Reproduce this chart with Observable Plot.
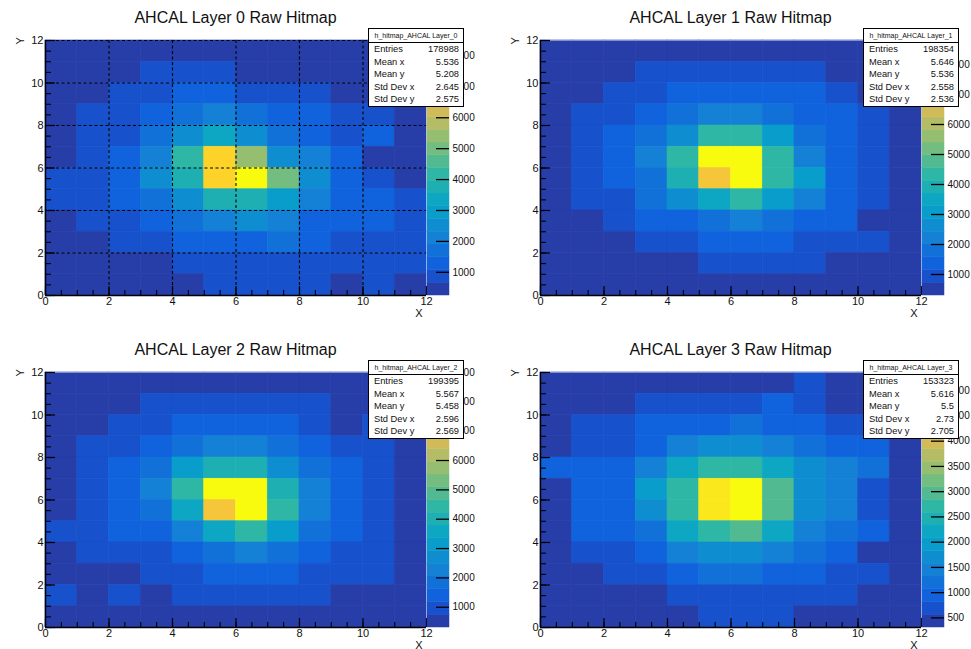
<!DOCTYPE html>
<html><head><meta charset="utf-8">
<script src="https://cdn.jsdelivr.net/npm/d3@7"></script>
<script src="https://cdn.jsdelivr.net/npm/@observablehq/plot@0.6"></script>
<style>
html,body{margin:0;padding:0;background:#fff;}
#root{position:relative;width:971px;height:649px;overflow:hidden;font-family:"Liberation Sans",Arial,sans-serif;color:#111;}
.panel{position:absolute;width:485px;height:325px;}
.panel > svg{position:absolute;left:0;top:0;}
.panel > svg.cbar{left:427px;}
.title{position:absolute;left:45px;width:381px;top:8px;text-align:center;font-size:16px;line-height:20px;}
.stats{position:absolute;left:368px;top:28px;width:96px;height:79px;border:1px solid #000;background:#fff;box-sizing:border-box;}
.stats .hd{height:13px;border-bottom:1px solid #000;font-size:7px;text-align:center;line-height:13px;white-space:nowrap;}
.stats .row{display:flex;justify-content:space-between;padding:0 4px 0 5px;height:12.6px;line-height:12.6px;font-size:9.3px;white-space:nowrap;}
</style></head>
<body><div id="root"></div>
<script>
// ---------- data ----------
const titles = ["AHCAL Layer 0 Raw Hitmap", "AHCAL Layer 1 Raw Hitmap", "AHCAL Layer 2 Raw Hitmap", "AHCAL Layer 3 Raw Hitmap"];
const histNames = ["h_hitmap_AHCAL Layer_0", "h_hitmap_AHCAL Layer_1", "h_hitmap_AHCAL Layer_2", "h_hitmap_AHCAL Layer_3"];
const statLabels = ["Entries", "Mean x", "Mean y", "Std Dev x", "Std Dev y"];
const statsLayer0 = ["178988", "5.536", "5.208", "2.645", "2.575"];
const statsLayer1 = ["198354", "5.646", "5.536", "2.558", "2.536"];
const statsLayer2 = ["199395", "5.567", "5.458", "2.596", "2.569"];
const statsLayer3 = ["153323", "5.616", "5.5", "2.73", "2.705"];

const xEdges = [0,1,2,3,4,5,6,7,8,9,10,11,12];
const yEdges = [0,1,2,3,4,5,6,7,8,9,10,11,12];
const majorTicks = [0,2,4,6,8,10,12];
const minorTicks = [0,0.5,1,1.5,2,2.5,3,3.5,4,4.5,5,5.5,6,6.5,7,7.5,8,8.5,9,9.5,10,10.5,11,11.5,12];
const gridTicks = [2,4,6,8,10,12];

const zTicksLayer0 = [1000,2000,3000,4000,5000,6000,7000,8000];
const zTicksLayer1 = [1000,2000,3000,4000,5000,6000,7000,8000];
const zTicksLayer2 = [1000,2000,3000,4000,5000,6000,7000,8000,9000];
const zTicksLayer3 = [500,1000,1500,2000,2500,3000,3500,4000,4500,5000];

// counts per bin; rows from y=11 (top) to y=0 (bottom), columns x=0..11
const layer0Counts = [
  [420, 380, 350, 410, 470, 520, 450, 400, 360, 330, 300, 280],
  [480, 520, 560, 880, 950, 960, 610, 540, 500, 470, 430, 390],
  [520, 600, 820, 900, 1230, 1280, 980, 930, 860, 620, 560, 480],
  [590, 780, 900, 1300, 1720, 2150, 1690, 1320, 1240, 950, 760, 520],
  [610, 860, 1020, 1740, 2560, 3350, 2480, 1760, 1290, 1040, 1200, 600],
  [640, 900, 1310, 2120, 4150, 7450, 5390, 2540, 2080, 1250, 650, 540],
  [820, 960, 1350, 2520, 3760, 7520, 8500, 5010, 2470, 1300, 940, 620],
  [780, 920, 1290, 1710, 2530, 3790, 3720, 2950, 2110, 1280, 1150, 840],
  [600, 830, 940, 1260, 1690, 2090, 2480, 2060, 1250, 1190, 1120, 760],
  [480, 560, 780, 860, 1180, 1240, 1300, 1580, 1150, 900, 830, 740],
  [350, 420, 510, 600, 720, 890, 960, 940, 870, 760, 730, 700],
  [250, 310, 340, 430, 560, 720, 790, 800, 740, 610, 700, 450]
];
const layer1Counts = [
  [300, 360, 410, 450, 500, 520, 510, 480, 430, 390, 350, 320],
  [380, 450, 560, 820, 900, 960, 980, 930, 860, 600, 470, 400],
  [420, 560, 860, 1090, 1260, 1370, 1410, 1340, 1220, 900, 640, 450],
  [490, 820, 1060, 1380, 1810, 2190, 2230, 1830, 1400, 1260, 920, 560],
  [520, 930, 1280, 1700, 2650, 4330, 4380, 3050, 1780, 1330, 950, 600],
  [560, 980, 1400, 2210, 4310, 8800, 8600, 4290, 2180, 1380, 990, 620],
  [540, 960, 1360, 1820, 3920, 7300, 8700, 4350, 3080, 1350, 960, 590],
  [480, 880, 1120, 1760, 2620, 3480, 4240, 3010, 2150, 1290, 900, 540],
  [420, 620, 840, 1220, 1300, 1790, 2210, 1740, 1280, 1200, 640, 450],
  [360, 480, 590, 830, 920, 1270, 1380, 1290, 970, 880, 800, 400],
  [320, 400, 460, 540, 650, 860, 960, 940, 820, 600, 450, 350],
  [310, 340, 380, 420, 480, 560, 600, 580, 520, 450, 390, 330]
];
const layer2Counts = [
  [310, 350, 400, 440, 480, 500, 490, 470, 440, 400, 360, 330],
  [400, 470, 580, 860, 950, 1000, 1010, 970, 900, 620, 480, 410],
  [450, 600, 880, 1090, 1290, 1400, 1420, 1330, 1100, 700, 780, 470],
  [500, 860, 1080, 1420, 1850, 2280, 2310, 1880, 1430, 1120, 930, 540],
  [540, 960, 1330, 1830, 3120, 3990, 4010, 2700, 1840, 1380, 990, 580],
  [560, 990, 1420, 2260, 4420, 9000, 8900, 3960, 2250, 1400, 1000, 600],
  [580, 1000, 1410, 1850, 3580, 7480, 8950, 4460, 2270, 1390, 980, 590],
  [800, 960, 1300, 1350, 2260, 3560, 4430, 3100, 1840, 1330, 940, 560],
  [520, 850, 980, 1060, 1360, 1820, 2260, 1800, 1350, 1050, 880, 500],
  [420, 560, 690, 880, 980, 1300, 1380, 1290, 1000, 920, 820, 430],
  [780, 600, 800, 680, 880, 1010, 1060, 1020, 900, 640, 520, 380],
  [330, 380, 420, 460, 520, 600, 640, 620, 560, 480, 410, 350]
];
const layer3Counts = [
  [310, 340, 380, 420, 450, 480, 500, 520, 640, 500, 420, 360],
  [400, 450, 520, 700, 740, 760, 780, 880, 720, 540, 470, 400],
  [450, 640, 730, 900, 960, 1000, 1150, 1010, 930, 720, 680, 460],
  [500, 720, 800, 980, 1430, 1680, 1720, 1450, 1200, 940, 900, 520],
  [880, 900, 960, 1440, 2190, 2700, 2740, 2210, 1700, 1450, 1190, 540],
  [540, 930, 1010, 1950, 2720, 4980, 5360, 2960, 1720, 1460, 760, 500],
  [530, 920, 1000, 1700, 2690, 4960, 5300, 2940, 1680, 1430, 740, 490],
  [500, 860, 980, 1220, 2200, 2730, 2950, 2180, 1440, 1200, 920, 470],
  [460, 700, 780, 940, 1400, 1650, 1700, 1420, 1180, 900, 540, 430],
  [420, 500, 690, 740, 950, 1180, 1220, 960, 900, 680, 640, 400],
  [360, 420, 480, 530, 650, 740, 780, 760, 700, 620, 510, 370],
  [320, 350, 400, 450, 520, 620, 680, 640, 540, 460, 400, 340]
];

// ---------- style: ROOT kBird palette, 20 contour levels ----------
const birdStops = [0.0, 0.125, 0.25, 0.375, 0.5, 0.625, 0.75, 0.875, 1.0];
const birdR = [0.2082, 0.0592, 0.0780, 0.0232, 0.1802, 0.5301, 0.8186, 0.9956, 0.9764];
const birdG = [0.1664, 0.3599, 0.5041, 0.6419, 0.7178, 0.7492, 0.7328, 0.7862, 0.9832];
const birdB = [0.5293, 0.8684, 0.8385, 0.7914, 0.6425, 0.4662, 0.3499, 0.1968, 0.0539];
function bird(t) {
  let k = 0;
  while (k < birdStops.length - 2 && t > birdStops[k + 1]) k++;
  const u = (t - birdStops[k]) / (birdStops[k + 1] - birdStops[k]);
  const f = a => Math.round(255 * (a[k] + u * (a[k + 1] - a[k])));
  return `rgb(${f(birdR)},${f(birdG)},${f(birdB)})`;
}
const NLEV = 20;
const levelColors = d3.range(NLEV).map(i => bird(Math.floor((i + 0.99) * 255 / NLEV) / 254));

const layers = [
  {counts: layer0Counts, stats: statsLayer0, zTicks: zTicksLayer0, grid: true},
  {counts: layer1Counts, stats: statsLayer1, zTicks: zTicksLayer1, grid: false},
  {counts: layer2Counts, stats: statsLayer2, zTicks: zTicksLayer2, grid: false},
  {counts: layer3Counts, stats: statsLayer3, zTicks: zTicksLayer3, grid: false}
];
const panelPos = [[0, 0], [495, 0], [0, 332], [495, 332]];
const cbarWidth = [49, 49, 49, 49];

const W = 485, H = 325, ML = 45, MR = 59, MT = 40, MB = 30;
const FW = W - ML - MR, FH = H - MT - MB;
const root = document.getElementById("root");
const font = {fontFamily: "'Liberation Sans', Arial, sans-serif", fontSize: "11px", color: "#111", background: "transparent", overflow: "visible"};

layers.forEach((L, li) => {
  const cells = [];
  L.counts.forEach((row, r) => row.forEach((v, c) => cells.push({
    x0: xEdges[c], x1: xEdges[c + 1], y0: yEdges[11 - r], y1: yEdges[12 - r], count: v
  })));
  const [zmin, zmax] = d3.extent(cells, d => d.count);
  const w = (zmax - zmin) / NLEV;
  const thresholds = d3.range(1, NLEV).map(i => zmin + i * w);
  const colorSpec = {type: "threshold", domain: thresholds, range: levelColors};

  const panel = document.createElement("div");
  panel.className = "panel";
  panel.style.left = panelPos[li][0] + "px";
  panel.style.top = panelPos[li][1] + "px";

  const marks = [
    Plot.rect(cells, {x1: "x0", x2: "x1", y1: "y0", y2: "y1", fill: "count", stroke: "count", strokeWidth: 0.6})
  ];
  if (L.grid) {
    marks.push(Plot.ruleX(gridTicks.slice(0, -1), {x: d => d, stroke: "#000", strokeWidth: 1.1, strokeDasharray: "3,2.5"}));
    marks.push(Plot.ruleY(gridTicks, {y: d => d, stroke: "#000", strokeWidth: 1.1, strokeDasharray: "3,2.5"}));
  } else {
    marks.push(Plot.ruleY([yEdges[12]], {y: d => d, stroke: "#7f8fd0", strokeWidth: 1}));
  }
  marks.push(
    Plot.ruleX(minorTicks, {x: d => d, insetTop: FH - 5, stroke: "#000", strokeWidth: 1.1}),
    Plot.ruleX(majorTicks, {x: d => d, insetTop: FH - 9, stroke: "#000", strokeWidth: 1.2}),
    Plot.ruleY(minorTicks, {y: d => d, insetRight: FW - 6, stroke: "#000", strokeWidth: 1.1}),
    Plot.ruleY(majorTicks, {y: d => d, insetRight: FW - 10, stroke: "#000", strokeWidth: 1.2}),
    Plot.ruleX([xEdges[0]], {x: d => d, stroke: "#000", strokeWidth: 1.4}),
    Plot.ruleY([yEdges[0]], {y: d => d, stroke: "#000", strokeWidth: 1.4}),
    Plot.axisX({ticks: majorTicks, tickSize: 0, tickPadding: 2, label: null, tickFormat: d => String(d), fontSize: 11}),
    Plot.axisY({ticks: majorTicks, tickSize: 0, tickPadding: 2, label: null, tickFormat: d => String(d), fontSize: 11}),
    Plot.text(["X"], {text: d => d, frameAnchor: "bottom-right", dx: -4, dy: 21, fontSize: 11}),
    Plot.text(["Y"], {text: d => d, frameAnchor: "top-left", dx: -29, dy: 4, rotate: -90, fontSize: 11})
  );

  const main = Plot.plot({
    width: W, height: H, marginLeft: ML, marginRight: MR, marginTop: MT, marginBottom: MB,
    x: {domain: [xEdges[0], xEdges[12]], label: null},
    y: {domain: [yEdges[0], yEdges[12]], label: null},
    color: colorSpec,
    style: font,
    marks
  });
  panel.appendChild(main);

  const levels = d3.range(NLEV).map(i => ({lo: zmin + i * w, hi: zmin + (i + 1) * w, mid: zmin + (i + 0.5) * w}));
  const cw = cbarWidth[li];
  const cbar = Plot.plot({
    width: cw, height: H, marginLeft: 0, marginRight: cw - 22, marginTop: MT, marginBottom: MB,
    y: {domain: [zmin, zmax], label: null},
    color: colorSpec,
    style: {...font, fontSize: "10px"},
    marks: [
      Plot.rect(levels, {y1: "lo", y2: "hi", fill: "mid", stroke: "mid", strokeWidth: 0.5}),
      Plot.ruleY(L.zTicks, {y: d => d, insetLeft: 9, stroke: "#000", strokeWidth: 1.3}),
      Plot.axisY(L.zTicks, {anchor: "right", tickSize: 0, tickPadding: 3, label: null, tickFormat: d3.format("d"), fontSize: 10})
    ]
  });
  cbar.classList.add("cbar");
  panel.appendChild(cbar);

  const title = document.createElement("div");
  title.className = "title";
  title.textContent = titles[li];
  panel.appendChild(title);

  const box = document.createElement("div");
  box.className = "stats";
  const hd = document.createElement("div");
  hd.className = "hd";
  hd.textContent = histNames[li];
  box.appendChild(hd);
  statLabels.forEach((lab, k) => {
    const row = document.createElement("div");
    row.className = "row";
    const a = document.createElement("span"); a.textContent = lab;
    const b = document.createElement("span"); b.textContent = L.stats[k];
    row.appendChild(a); row.appendChild(b);
    box.appendChild(row);
  });
  panel.appendChild(box);

  root.appendChild(panel);
});
</script></body></html>
